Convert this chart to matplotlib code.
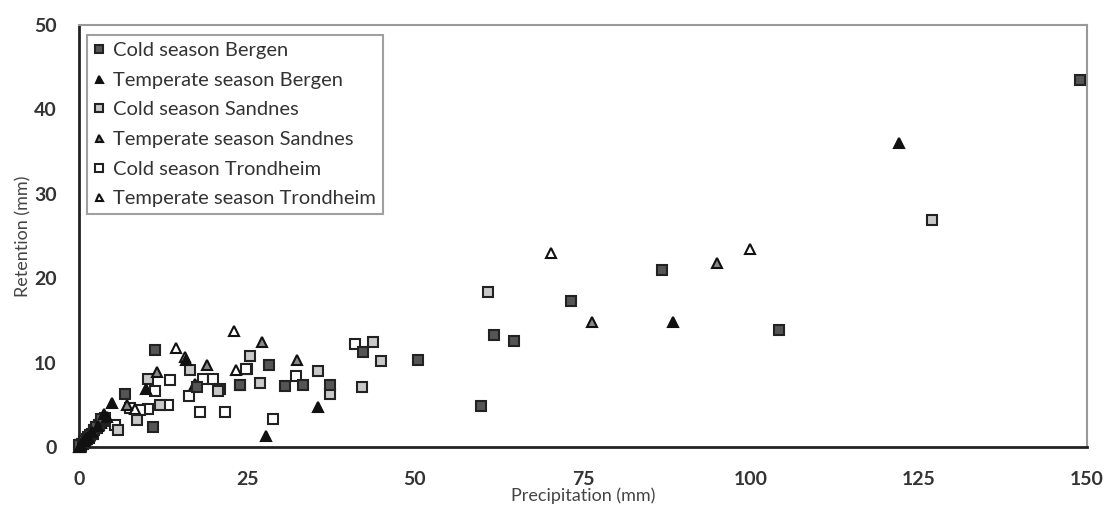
import matplotlib
matplotlib.use('Agg')
import matplotlib.pyplot as plt

# data (precipitation mm, retention mm)
cold_bergen_x = [149, 86.7, 73.2, 104.1, 61.7, 64.7, 59.8, 50.5, 42.3, 37.4, 33.4, 30.7, 28.3, 23.9, 17.5, 11.3, 11.0, 6.8,
                 0.1, 0.4, 0.8, 1.2, 1.7, 2.3, 3.0, 3.6, 0.0, 0.6, 1.5, 2.1, 2.6, 3.3]
cold_bergen_y = [43.5, 21.0, 17.3, 13.9, 13.3, 12.6, 4.9, 10.3, 11.3, 7.3, 7.3, 7.2, 9.7, 7.3, 7.1, 11.5, 2.4, 6.3,
                 0.1, 0.3, 0.7, 1.0, 1.4, 2.0, 2.6, 3.1, 0.2, 0.4, 1.1, 1.6, 2.4, 3.3]

temp_bergen_x = [122, 88.4, 35.5, 27.8, 15.9, 10.0, 4.9, 0.3, 1.0, 2.0, 2.8, 4.2, 0.2, 0.7, 1.3, 3.7]
temp_bergen_y = [36.0, 14.8, 4.7, 1.3, 10.3, 6.9, 5.2, 0.3, 0.9, 1.8, 2.5, 3.6, 0.0, 0.7, 1.2, 3.9]

cold_sandnes_x = [127, 60.8, 45.0, 43.7, 42.1, 37.3, 35.5, 25.5, 26.9, 20.7, 16.5, 12.1, 8.6, 5.8, 10.2,
                  0.2, 1.4, 2.7, 3.9, 0.9]
cold_sandnes_y = [26.9, 18.4, 10.2, 12.4, 7.1, 6.3, 9.0, 10.8, 7.6, 6.6, 9.1, 5.0, 3.2, 2.0, 8.1,
                  0.2, 1.2, 2.3, 3.4, 0.6]

temp_sandnes_x = [94.9, 76.3, 27.3, 32.4, 19.1, 11.6, 7.1, 0.6, 1.5, 3.3, 0.1]
temp_sandnes_y = [21.8, 14.8, 12.4, 10.3, 9.7, 8.9, 5.0, 0.5, 1.3, 2.9, 0.0]

cold_trond_x = [41.1, 32.3, 28.9, 25.0, 24.0, 24.9, 18.5, 20.0, 21.0, 16.3, 18.0, 21.7, 13.5, 13.3, 10.3, 9.1, 7.6,
                11.3, 5.4, 0.5, 1.9, 3.2, 0.3]
cold_trond_y = [12.2, 8.4, 3.3, 9.3, 7.3, 9.3, 8.0, 8.0, 6.9, 6.0, 4.2, 4.2, 7.9, 5.0, 4.5, 4.4, 4.6,
                6.6, 2.6, 0.4, 1.6, 2.8, 0.1]

temp_trond_x = [70.3, 99.9, 23.0, 14.4, 15.8, 23.4, 17.3, 8.3, 0.0, 0.9, 2.5]
temp_trond_y = [23.0, 23.5, 13.7, 11.7, 10.7, 9.1, 7.5, 4.5, 0.0, 0.8, 2.2]

plt.rcParams['font.family'] = ['Lato', 'DejaVu Sans']

fig = plt.figure(figsize=(11.05, 5.16), dpi=100)
ax = fig.add_axes([0.0715, 0.1337, 0.9122, 0.8179])

sq = dict(marker='s', markersize=7.8, markeredgecolor='#222222', markeredgewidth=1.5, linestyle='none', clip_on=False)
tri = dict(marker='^', markersize=7.2, markeredgecolor='#111111', markeredgewidth=1.5, linestyle='none', clip_on=False)

# dark (Bergen) series on top so the cluster at the origin reads as a black blob
ax.plot(cold_bergen_x, cold_bergen_y, markerfacecolor='#555555', label='Cold season Bergen', zorder=4, **sq)
ax.plot(temp_bergen_x, temp_bergen_y, markerfacecolor='#111111', label='Temperate season Bergen', zorder=4.1, **tri)
ax.plot(cold_sandnes_x, cold_sandnes_y, markerfacecolor='#c8c8c8', label='Cold season Sandnes', zorder=3, **sq)
ax.plot(temp_sandnes_x, temp_sandnes_y, markerfacecolor='#888888', label='Temperate season Sandnes', zorder=3.1, **tri)
ax.plot(cold_trond_x, cold_trond_y, markerfacecolor='white', label='Cold season Trondheim', zorder=2, **sq)
ax.plot(temp_trond_x, temp_trond_y, markerfacecolor='white', label='Temperate season Trondheim', zorder=2.1, **tri)

ax.set_xlim(0, 150)
ax.set_ylim(0, 50)
ax.set_xticks([0, 25, 50, 75, 100, 125, 150])
ax.set_yticks([0, 10, 20, 30, 40, 50])
ax.tick_params(length=0, labelsize=14, labelcolor='#333333')
ax.tick_params(axis='x', pad=17)
ax.tick_params(axis='y', pad=16)
for t in ax.get_xticklabels() + ax.get_yticklabels():
    t.set_fontweight('bold')

for s in ['left', 'bottom']:
    ax.spines[s].set_color('#222222')
    ax.spines[s].set_linewidth(2)
for s in ['top', 'right']:
    ax.spines[s].set_color('#999999')
    ax.spines[s].set_linewidth(1.5)

ax.set_xlabel('Precipitation (mm)', fontsize=13, color='#444444', labelpad=0)
ax.set_ylabel('Retention (mm)', fontsize=13, color='#444444', labelpad=2)

leg = ax.legend(loc='upper left', bbox_to_anchor=(0.008, 0.976), borderaxespad=0, fontsize=14.5, frameon=True,
                fancybox=False, edgecolor='#888888', handlelength=0.5, handletextpad=0.45, markerscale=0.7,
                labelspacing=0.62, borderpad=0.35, labelcolor='#333333')
leg.get_frame().set_linewidth(1.5)
leg.set_zorder(10)

plt.savefig('out.png', dpi=100)
